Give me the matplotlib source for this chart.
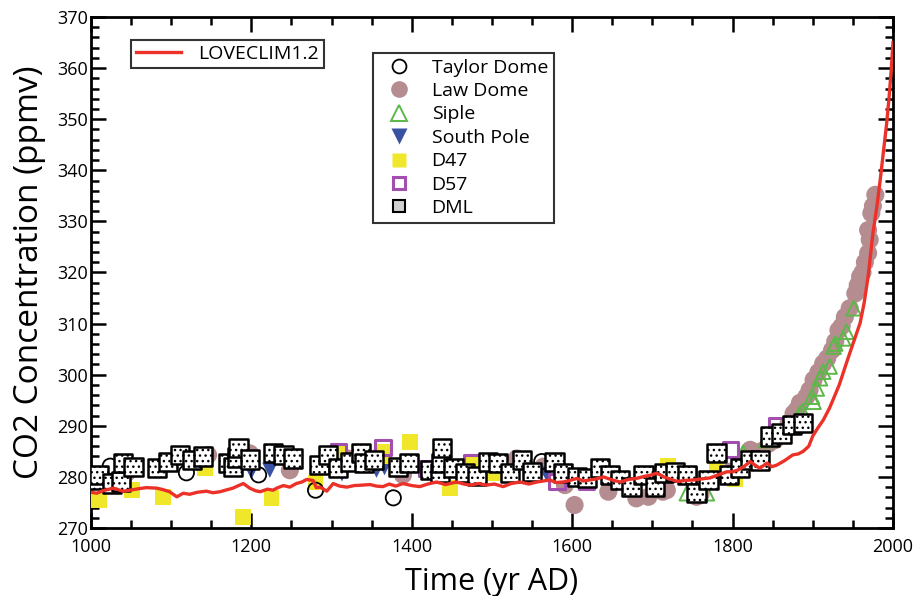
import matplotlib
matplotlib.use("Agg")
import matplotlib.pyplot as plt
from matplotlib.lines import Line2D
from matplotlib.ticker import MultipleLocator

plt.rcParams['font.family'] = ['Open Sans', 'DejaVu Sans']

# LOVECLIM1.2 model curve
model_year = [1000, 1007, 1015, 1028, 1040, 1049, 1060, 1069, 1082, 1090, 1098, 1107, 1115, 1123, 1133,
              1144, 1152, 1161, 1170, 1177, 1184, 1190, 1198, 1205, 1211, 1220, 1227, 1233, 1240, 1248,
              1256, 1263, 1269, 1277, 1281, 1286, 1294, 1302, 1310, 1319, 1328, 1339, 1348, 1356, 1364,
              1372, 1380, 1389, 1400, 1410, 1420, 1431, 1442, 1456, 1465, 1473, 1483, 1493, 1503, 1514,
              1524, 1535, 1546, 1556, 1564, 1572, 1580, 1589, 1597, 1606, 1614, 1622, 1630, 1639, 1650,
              1660, 1670, 1680, 1690, 1697, 1705, 1710, 1714, 1722, 1731, 1740, 1751, 1761, 1772, 1782,
              1793, 1800, 1806, 1814, 1822, 1828, 1834, 1843, 1849, 1855, 1865, 1875, 1882, 1888, 1895,
              1900, 1906, 1913, 1921, 1925, 1933, 1942, 1950, 1959, 1964, 1969, 1975, 1980, 1984, 1988,
              1992, 1995, 1998, 2000]
model_co2 = [277.0, 276.8, 277.3, 277.8, 277.2, 277.4, 277.7, 277.9, 277.8, 277.5, 277.1, 276.1, 276.8,
             276.6, 277.0, 277.2, 276.9, 277.1, 277.5, 277.8, 278.3, 278.7, 277.8, 277.3, 277.1, 277.6,
             277.4, 277.9, 278.3, 278.0, 278.7, 279.0, 279.5, 279.3, 277.9, 278.0, 277.2, 278.7, 278.2,
             278.0, 278.3, 278.4, 278.5, 278.2, 278.1, 278.6, 278.2, 278.7, 278.3, 278.1, 278.6, 279.0,
             278.5, 279.0, 278.6, 278.4, 278.7, 278.4, 278.6, 278.1, 278.7, 279.0, 278.6, 279.0, 279.2,
             279.4, 278.9, 279.0, 279.3, 279.7, 279.2, 279.4, 279.6, 280.0, 279.4, 279.0, 279.5, 279.7,
             280.1, 280.3, 280.7, 280.4, 280.0, 279.6, 279.1, 279.3, 279.4, 279.6, 279.8, 280.4, 281.0,
             281.0, 281.3, 282.0, 283.0, 282.3, 281.7, 282.7, 282.0, 282.3, 283.2, 284.3, 284.5, 285.0,
             286.0, 288.0, 289.5, 291.1, 293.5, 295.0, 298.0, 302.3, 306.0, 310.1, 314.0, 319.2, 327.7,
             333.0, 338.0, 343.5, 349.0, 354.0, 360.0, 365.0]

taylor_year = [1024, 1119, 1209, 1280, 1377, 1562]
taylor_co2 = [282.1, 280.8, 280.4, 277.4, 275.9, 283.0]

law_year = [1042, 1046, 1146, 1198, 1248, 1320, 1389, 1531, 1564, 1591, 1603, 1645, 1680, 1695, 1713,
            1718, 1755, 1760, 1797, 1812, 1822, 1835, 1845, 1853, 1862, 1870, 1876, 1880, 1884, 1892,
            1896, 1901, 1907, 1913, 1918, 1924, 1928, 1932, 1936, 1940, 1946, 1953, 1956, 1959, 1962,
            1965, 1969, 1971, 1969, 1973, 1975, 1978]
law_co2 = [280.4, 281.0, 284.3, 284.6, 281.3, 283.6, 280.4, 283.6, 282.0, 278.4, 274.5, 277.1, 275.8,
           276.1, 277.1, 277.4, 276.1, 276.5, 281.0, 282.5, 285.3, 285.0, 286.5, 287.2, 288.5, 290.5,
           292.4, 293.1, 294.5, 295.7, 297.0, 299.0, 300.5, 302.2, 303.2, 304.8, 306.5, 308.7, 309.5,
           311.3, 313.0, 315.9, 317.5, 319.2, 320.0, 322.0, 323.8, 326.4, 328.3, 331.6, 333.0, 335.2]

siple_year = [1743, 1768, 1813, 1842, 1884, 1887, 1899, 1901, 1905, 1909, 1913, 1921, 1926, 1928, 1938,
              1942, 1951]
siple_co2 = [276.8, 276.8, 284.7, 287.2, 292.4, 292.8, 295.7, 294.7, 297.3, 299.3, 300.6, 301.6, 305.5,
             306.1, 307.1, 308.4, 313.0]

spole_year = [1200, 1223, 1313, 1356, 1366, 1568, 1709]
spole_co2 = [281.0, 281.3, 280.6, 281.3, 281.8, 280.6, 278.1]

d47_year = [1010, 1051, 1090, 1142, 1190, 1225, 1280, 1308, 1362, 1365, 1398, 1448, 1477, 1502, 1720,
            1780, 1803]
d47_co2 = [275.5, 277.4, 276.1, 281.7, 272.2, 275.8, 278.9, 284.6, 284.0, 284.9, 286.9, 277.8, 282.7,
           280.7, 282.2, 282.0, 279.6]

d57_year = [1309, 1364, 1419, 1475, 1581, 1618, 1745, 1797, 1855]
d57_co2 = [285.0, 285.7, 281.7, 282.7, 279.1, 279.1, 280.4, 285.3, 290.0]

dml_year = [1005, 1010, 1026, 1038, 1040, 1053, 1082, 1096, 1111, 1126, 1140, 1171, 1177, 1182, 1184,
            1198, 1227, 1240, 1252, 1285, 1296, 1308, 1323, 1337, 1340, 1353, 1383, 1396, 1423, 1435,
            1437, 1438, 1452, 1466, 1481, 1495, 1508, 1522, 1537, 1550, 1578, 1589, 1606, 1618, 1635,
            1647, 1660, 1674, 1689, 1703, 1715, 1728, 1743, 1755, 1770, 1780, 1795, 1809, 1822, 1834,
            1847, 1861, 1874, 1888]
dml_co2 = [279.4, 280.4, 278.7, 279.1, 282.7, 282.0, 281.7, 283.0, 284.3, 283.3, 284.0, 282.7, 282.0,
           283.8, 285.6, 283.4, 284.6, 284.3, 283.6, 282.3, 284.3, 281.7, 283.0, 284.6, 282.8, 283.3,
           282.0, 282.8, 281.3, 280.7, 282.7, 285.6, 281.7, 280.8, 280.2, 283.0, 282.8, 280.7, 283.3,
           281.0, 283.0, 280.8, 280.0, 279.7, 281.7, 280.4, 279.4, 278.1, 280.4, 278.1, 280.7, 281.0,
           280.4, 276.8, 279.4, 284.6, 280.4, 281.7, 283.3, 283.2, 287.9, 288.5, 290.2, 290.5]

fig = plt.figure(figsize=(9.17, 5.96), dpi=100)
ax = fig.add_axes([0.0992, 0.1141, 0.8746, 0.8574])

law_c = '#b58c90'
ax.scatter(law_year, law_co2, s=170, marker='o', color=law_c, edgecolors='none', zorder=2)
ax.scatter(siple_year, siple_co2, s=110, marker='^', facecolors='none', edgecolors='#5cb848',
           linewidths=1.4, zorder=3)
ax.scatter(spole_year, spole_co2, s=120, marker='v', color='#3a52a3', edgecolors='none', zorder=3)
ax.scatter(d47_year, d47_co2, s=130, marker='s', color='#f0e62a', edgecolors='none', zorder=3)
ax.scatter(d57_year, d57_co2, s=120, marker='s', facecolors='none', edgecolors='#a24fb0',
           linewidths=2.2, zorder=4)
ax.scatter(taylor_year, taylor_co2, s=120, marker='o', facecolors='none', edgecolors='black',
           linewidths=1.3, zorder=4)
ax.scatter(dml_year, dml_co2, s=170, marker='s', facecolors='white', edgecolors='black',
           linewidths=1.8, hatch='...', zorder=5)
line, = ax.plot(model_year, model_co2, color='#ec3228', lw=2.4, zorder=6)

ax.set_xlim(1000, 2000)
ax.set_ylim(270, 370)
ax.xaxis.set_major_locator(MultipleLocator(200))
ax.xaxis.set_minor_locator(MultipleLocator(50))
ax.yaxis.set_major_locator(MultipleLocator(10))
ax.yaxis.set_minor_locator(MultipleLocator(2))
ax.tick_params(which='both', direction='in', top=True, right=True, width=1.8, labelsize=13)
ax.tick_params(which='major', length=11)
ax.tick_params(which='minor', length=5.5)
ax.tick_params(axis='x', which='major', pad=7)
ax.tick_params(axis='y', which='major', pad=2)
for sp in ax.spines.values():
    sp.set_linewidth(2)

ax.set_xlabel('Time (yr AD)', fontsize=22, labelpad=8)
ax.set_ylabel('CO2 Concentration (ppmv)', fontsize=24, labelpad=8)

leg1 = ax.legend([line], ['LOVECLIM1.2'], loc='upper left', bbox_to_anchor=(0.05, 0.955),
                 borderaxespad=0, fontsize=14, frameon=True, fancybox=False, edgecolor='black',
                 handlelength=2.3, borderpad=0.25, handletextpad=0.9)
leg1.get_frame().set_linewidth(1.5)
ax.add_artist(leg1)

handles = [
    Line2D([], [], ls='none', marker='o', markersize=10, markerfacecolor='none', markeredgecolor='black', markeredgewidth=1.3),
    Line2D([], [], ls='none', marker='o', markersize=12, markerfacecolor=law_c, markeredgecolor='none'),
    Line2D([], [], ls='none', marker='^', markersize=11, markerfacecolor='none', markeredgecolor='#5cb848', markeredgewidth=1.4),
    Line2D([], [], ls='none', marker='v', markersize=11, markerfacecolor='#3a52a3', markeredgecolor='none'),
    Line2D([], [], ls='none', marker='s', markersize=10, markerfacecolor='#f0e62a', markeredgecolor='none'),
    Line2D([], [], ls='none', marker='s', markersize=9, markerfacecolor='none', markeredgecolor='#a24fb0', markeredgewidth=2.2),
    Line2D([], [], ls='none', marker='s', markersize=9, markerfacecolor='#d0d0d0', markeredgecolor='black', markeredgewidth=1.5),
]
labels = ['Taylor Dome', 'Law Dome', 'Siple', 'South Pole', 'D47', 'D57', 'DML']
leg2 = ax.legend(handles, labels, loc='upper left', bbox_to_anchor=(0.352, 0.93), borderaxespad=0,
                 fontsize=14, frameon=True, fancybox=False, edgecolor='black', labelspacing=0.28,
                 handletextpad=0.7, borderpad=0.3)
leg2.get_frame().set_linewidth(1.5)

fig.savefig('out.png', dpi=100)
